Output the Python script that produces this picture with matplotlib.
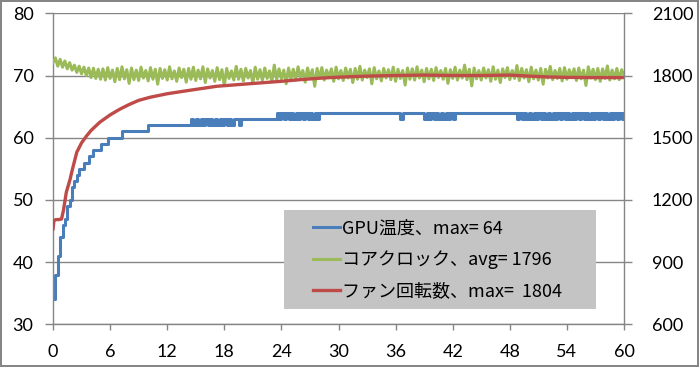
import numpy as np
import matplotlib
matplotlib.use("Agg")
import matplotlib.pyplot as plt
from matplotlib.patches import Rectangle

# sample times (s) for GPU temp and core clock, 0.25 s apart
t = np.arange(0, 60.001, 0.25)

gpu_temp = [
    34, 38, 41, 44, 46, 47, 49, 50, 52, 53, 54, 55, 55, 56, 56, 57, 57, 58, 58, 58,
    59, 59, 59, 60, 60, 60, 60, 60, 60, 61, 61, 61, 61, 61, 61, 61, 61, 61, 61, 61,
    62, 62, 62, 62, 62, 62, 62, 62, 62, 62, 62, 62, 62, 62, 62, 62, 62, 62, 63, 62,
    63, 62, 63, 62, 63, 62, 63, 62, 63, 62, 63, 62, 63, 62, 63, 62, 63, 63, 62, 63,
    63, 63, 63, 63, 63, 63, 63, 63, 63, 63, 63, 63, 63, 63, 64, 63, 64, 63, 64, 63,
    64, 63, 64, 63, 64, 63, 64, 63, 64, 63, 64, 63, 64, 64, 64, 64, 64, 64, 64, 64,
    64, 64, 64, 64, 64, 64, 64, 64, 64, 64, 64, 64, 64, 64, 64, 64, 64, 64, 64, 64,
    64, 64, 64, 64, 64, 64, 63, 64, 64, 64, 64, 64, 64, 64, 64, 64, 63, 64, 63, 64,
    63, 64, 63, 64, 63, 64, 63, 64, 63, 64, 64, 64, 64, 64, 64, 64, 64, 64, 64, 64,
    64, 64, 64, 64, 64, 64, 64, 64, 64, 64, 64, 64, 64, 64, 64, 63, 64, 63, 64, 63,
    64, 63, 64, 63, 64, 63, 64, 63, 64, 63, 64, 63, 64, 63, 64, 63, 64, 63, 64, 63,
    64, 63, 64, 63, 64, 63, 64, 63, 64, 63, 64, 63, 64, 63, 64, 63, 64, 63, 64, 63,
    64,
]

core_clock = [
    1862, 1885, 1845, 1878, 1840, 1870, 1832, 1862, 1826, 1850, 1815, 1845, 1808, 1840, 1800, 1836, 1790, 1835, 1786, 1830,
    1782, 1832, 1778, 1838, 1786, 1826, 1770, 1834, 1780, 1842, 1784, 1828, 1762, 1836, 1780, 1826, 1776, 1840, 1788, 1824,
    1774, 1838, 1782, 1830, 1758, 1834, 1786, 1828, 1778, 1842, 1784, 1822, 1772, 1836, 1790, 1830, 1768, 1834, 1782, 1840,
    1776, 1826, 1784, 1842, 1766, 1832, 1788, 1824, 1772, 1838, 1780, 1828, 1752, 1834, 1786, 1822, 1778, 1844, 1782, 1830,
    1774, 1834, 1788, 1824, 1764, 1840, 1782, 1828, 1776, 1836, 1786, 1822, 1770, 1850, 1780, 1832, 1784, 1826, 1760, 1836,
    1782, 1830, 1778, 1842, 1790, 1824, 1768, 1836, 1784, 1828, 1748, 1834, 1786, 1838, 1778, 1826, 1790, 1832, 1772, 1840,
    1784, 1824, 1776, 1836, 1788, 1830, 1766, 1834, 1782, 1844, 1778, 1826, 1790, 1832, 1760, 1838, 1784, 1822, 1774, 1834,
    1788, 1828, 1780, 1840, 1772, 1830, 1786, 1824, 1754, 1836, 1782, 1832, 1778, 1842, 1788, 1826, 1770, 1834, 1784, 1830,
    1776, 1838, 1790, 1824, 1782, 1834, 1762, 1828, 1786, 1840, 1778, 1826, 1788, 1850, 1780, 1830, 1750, 1836, 1784, 1824,
    1778, 1836, 1788, 1828, 1772, 1842, 1782, 1826, 1766, 1832, 1790, 1838, 1780, 1824, 1786, 1848, 1776, 1834, 1788, 1828,
    1770, 1840, 1784, 1826, 1778, 1834, 1758, 1830, 1788, 1844, 1780, 1824, 1786, 1834, 1774, 1838, 1782, 1828, 1790, 1832,
    1776, 1836, 1784, 1826, 1752, 1842, 1788, 1830, 1780, 1834, 1772, 1832, 1786, 1846, 1778, 1826, 1784, 1834, 1780, 1828,
    1800,
]

fan_t = [0, 0.1, 0.3, 0.6, 0.9, 1.1, 1.4, 1.8, 2.0, 2.5, 3.0, 3.5, 4.0, 4.9, 6, 7, 8, 9, 10.2,
         12, 13.7, 15, 17.2, 20, 22, 24, 26, 28, 30, 33, 36, 39, 42, 45, 48, 50, 52, 54, 57, 60]
fan_rpm = [1060, 1100, 1105, 1105, 1108, 1150, 1237, 1300, 1340, 1430, 1475, 1507, 1535, 1574,
           1610, 1637, 1660, 1680, 1695, 1712, 1724, 1733, 1748, 1758, 1765, 1772, 1780, 1787,
           1792, 1797, 1800, 1802, 1800, 1800, 1802, 1797, 1793, 1791, 1790, 1790]

labels = ["GPU温度、max= 64", "コアクロック、avg= 1796", "ファン回転数、max=  1804"]
x_ticks = list(range(0, 61, 6))
left_ticks = list(range(30, 81, 10))
right_ticks = list(range(600, 2101, 300))

gray = "#868686"
tick_font = "Lato"

fig = plt.figure(figsize=(6.99, 3.67), dpi=100, edgecolor=gray, linewidth=1.5)
ax = fig.add_axes([53 / 699, 42.7 / 367, 571 / 699, 311 / 367])
ax2 = ax.twinx()

l1, = ax.plot(t, gpu_temp, color="#4a7ebb", lw=2.2, drawstyle="steps-post")
l2, = ax2.plot(t, core_clock, color="#9bbb59", lw=2.2)
l3, = ax2.plot(fan_t, fan_rpm, color="#be4b48", lw=2.4)

ax.set_xlim(0, 60)
ax.set_ylim(30, 80)
ax2.set_ylim(600, 2100)
ax.set_xticks(x_ticks)
ax.set_yticks(left_ticks)
ax2.set_yticks(right_ticks)

ax.grid(axis="y", color=gray, lw=1)
ax.set_axisbelow(True)
for a in (ax, ax2):
    for s in a.spines.values():
        s.set_color(gray)
        s.set_linewidth(1)
    a.spines["top"].set_visible(False)
ax.spines["right"].set_visible(False)
ax2.spines["left"].set_visible(False)
ax2.spines["bottom"].set_visible(False)

ax.tick_params(axis="y", direction="out", length=6, width=1, color=gray, pad=8, labelsize=13)
ax.tick_params(axis="x", direction="out", length=4, width=1, color=gray, pad=10, labelsize=13)
ax2.tick_params(axis="y", direction="out", length=6, width=1, color=gray, pad=14, labelsize=13)
for lab in ax.get_xticklabels() + ax.get_yticklabels() + ax2.get_yticklabels():
    lab.set_fontfamily(tick_font)

# gray legend box
box = Rectangle((0.405, 0.048), 0.546, 0.319, transform=ax2.transAxes,
                facecolor="#c4c4c4", edgecolor="none", zorder=4)
ax2.add_patch(box)
leg = ax2.legend([l1, l2, l3], labels, loc="upper left", bbox_to_anchor=(0.455, 0.338),
                 frameon=False, borderpad=0, borderaxespad=0, handlelength=1.5,
                 handletextpad=0.12, labelspacing=0.73,
                 prop={"family": ["Noto Sans CJK JP", "DejaVu Sans"], "size": 13})
leg.set_zorder(5)

fig.savefig("out.png", dpi=100, edgecolor=fig.get_edgecolor())
